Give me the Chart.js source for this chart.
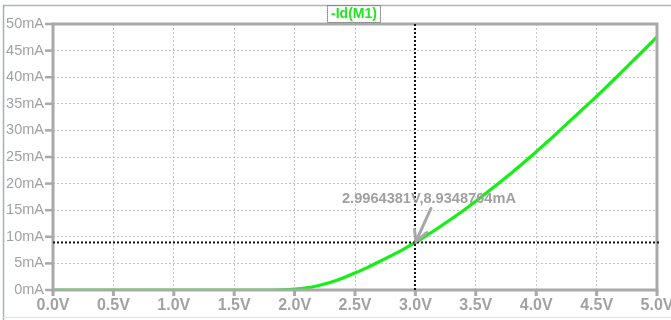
<!DOCTYPE html>
<html>
<head>
<meta charset="utf-8">
<script src="https://cdn.jsdelivr.net/npm/chart.js@4/dist/chart.umd.min.js"></script>
<style>
  html, body { margin: 0; padding: 0; background: #fff; }
  #wrap { width: 671px; height: 320px; position: relative; }
</style>
</head>
<body>
<div id="wrap"><canvas id="c" width="671" height="320"></canvas></div>
<script>
// Drain current of M1 versus gate voltage
const vgs = [0.0, 0.5, 1.0, 1.5, 1.8, 1.9, 2.0, 2.1, 2.2, 2.3, 2.4, 2.5, 2.6, 2.7, 2.8, 2.9, 3.0,
             3.1, 3.2, 3.3, 3.4, 3.5, 3.6, 3.7, 3.8, 3.9, 4.0, 4.1, 4.2, 4.3, 4.4, 4.5,
             4.6, 4.7, 4.8, 4.9, 5.0];
const idM1 = [0, 0, 0, 0, 0, 0.02, 0.15, 0.4, 0.85, 1.45, 2.25, 3.2, 4.2, 5.3, 6.45, 7.65, 8.93,
              10.35, 11.85, 13.4, 15.0, 16.7, 18.45, 20.25, 22.1, 24.0, 26.0, 28.0, 30.1, 32.2, 34.3, 36.4,
              38.6, 40.8, 43.05, 45.3, 47.6];
const xTicks = ['0.0V', '0.5V', '1.0V', '1.5V', '2.0V', '2.5V', '3.0V', '3.5V', '4.0V', '4.5V', '5.0V'];
const yUnit = 'mA';
const traceName = '-Id(M1)';
// Cursor readout
const cursorV = 2.9964381;
const cursorI = 8.9348704;
const cursorText = '2.9964381V,8.9348704mA';

const GRAY = '#a9a9a9';
const LABEL = '#a2a2a2';

const framePlugin = {
  id: 'frame',
  beforeDraw(chart) {
    const ctx = chart.ctx;
    ctx.save();
    ctx.fillStyle = '#ffffff';
    ctx.fillRect(0, 0, chart.width, chart.height);
    // window border
    ctx.strokeStyle = '#b4b4b4';
    ctx.lineWidth = 1.5;
    ctx.beginPath();
    ctx.moveTo(3, 5.5); ctx.lineTo(chart.width, 5.5);
    ctx.stroke();
    ctx.strokeStyle = '#9fb0c8';
    ctx.beginPath();
    ctx.moveTo(3.5, 5); ctx.lineTo(3.5, chart.height);
    ctx.stroke();
    ctx.strokeStyle = '#e2e2e2';
    ctx.lineWidth = 1;
    ctx.beginPath();
    ctx.moveTo(3, 317.5); ctx.lineTo(chart.width, 317.5);
    ctx.stroke();
    ctx.restore();
  },
  afterDatasetsDraw(chart) {
    const ctx = chart.ctx;
    const a = chart.chartArea;
    const xs = chart.scales.x, ys = chart.scales.y;
    ctx.save();
    // plot frame
    ctx.strokeStyle = GRAY;
    ctx.lineWidth = 3;
    ctx.strokeRect(a.left, a.top, a.right - a.left, a.bottom - a.top);
    // tick marks
    ctx.lineWidth = 2.5;
    ys.ticks.forEach(t => {
      const y = ys.getPixelForValue(t.value);
      ctx.beginPath(); ctx.moveTo(a.left - 8, y); ctx.lineTo(a.left, y); ctx.stroke();
    });
    ctx.lineWidth = 3;
    xs.ticks.forEach(t => {
      const x = xs.getPixelForValue(t.value);
      ctx.beginPath(); ctx.moveTo(x, a.bottom); ctx.lineTo(x, a.bottom + 6); ctx.stroke();
    });
    // cursor cross-hair
    const cx = xs.getPixelForValue(cursorV);
    const cy = ys.getPixelForValue(cursorI);
    ctx.strokeStyle = '#111';
    ctx.lineWidth = 2;
    ctx.setLineDash([2, 2]);
    ctx.beginPath(); ctx.moveTo(cx, a.top); ctx.lineTo(cx, a.bottom); ctx.stroke();
    ctx.beginPath(); ctx.moveTo(a.left, cy); ctx.lineTo(a.right + 2, cy); ctx.stroke();
    ctx.setLineDash([]);
    // readout arrow
    ctx.strokeStyle = '#a8a8a8';
    ctx.lineWidth = 3;
    ctx.lineCap = 'round';
    ctx.beginPath(); ctx.moveTo(cx + 16, cy - 34); ctx.lineTo(cx + 1, cy - 1); ctx.stroke();
    ctx.beginPath(); ctx.moveTo(cx - 0.5, cy - 13); ctx.lineTo(cx + 1, cy - 1); ctx.lineTo(cx + 12, cy - 10); ctx.stroke();
    // readout text
    ctx.fillStyle = '#a0a0a0';
    ctx.font = 'bold 14.6px "Liberation Sans", Arial, sans-serif';
    ctx.textAlign = 'left';
    ctx.textBaseline = 'middle';
    ctx.fillText(cursorText, 342, 199);
    // trace name
    ctx.font = 'bold 14px "Liberation Sans", Arial, sans-serif';
    const tw = ctx.measureText(traceName).width;
    const tx = 354;
    ctx.strokeStyle = '#888';
    ctx.lineWidth = 1;
    ctx.setLineDash([1, 1]);
    ctx.strokeRect(tx - tw / 2 - 3.5, 5.5, tw + 7, 17);
    ctx.setLineDash([]);
    ctx.fillStyle = '#1ee81e';
    ctx.textAlign = 'center';
    ctx.fillText(traceName, tx, 14.5);
    ctx.restore();
  }
};

new Chart(document.getElementById('c'), {
  type: 'line',
  data: {
    datasets: [{
      label: traceName,
      data: vgs.map((v, i) => ({ x: v, y: idM1[i] })),
      borderColor: '#14f014',
      borderWidth: 3.2,
      pointRadius: 0,
      cubicInterpolationMode: 'monotone',
      fill: false
    }]
  },
  options: {
    responsive: false,
    animation: false,
    devicePixelRatio: 1,
    layout: { padding: { left: 0, right: 14, top: 24, bottom: 0 } },
    plugins: { legend: { display: false }, tooltip: { enabled: false }, title: { display: false } },
    scales: {
      x: {
        type: 'linear',
        min: 0, max: 5,
        afterFit(s) { s.height = 30; s.paddingLeft = 0; s.paddingRight = 0; },
        afterBuildTicks(s) { s.ticks = xTicks.map((_, i) => ({ value: i * 0.5 })); },
        ticks: {
          callback: (v, i) => xTicks[i],
          color: LABEL,
          font: { family: '"Liberation Sans", Arial, sans-serif', size: 16, weight: 'bold' },
          padding: 6,
          maxRotation: 0,
          autoSkip: false
        },
        grid: { color: '#c4c4c4', lineWidth: 1, drawTicks: false },
        border: { display: false, dash: [2, 2] }
      },
      y: {
        min: 0, max: 50,
        afterFit(s) { s.width = 53; s.paddingTop = 0; s.paddingBottom = 0; },
        ticks: {
          stepSize: 5,
          callback: v => v + yUnit,
          color: LABEL,
          font: { family: '"Liberation Sans", Arial, sans-serif', size: 14.5 },
          padding: 9
        },
        grid: { color: '#c4c4c4', lineWidth: 1, drawTicks: false },
        border: { display: false, dash: [2, 2] }
      }
    }
  },
  plugins: [framePlugin]
});
</script>
</body>
</html>
